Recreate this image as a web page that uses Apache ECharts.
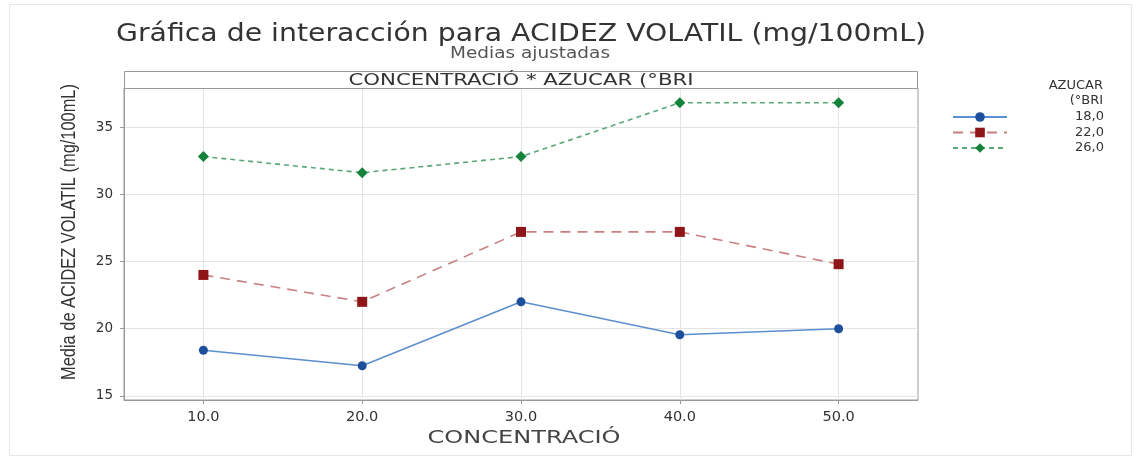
<!DOCTYPE html>
<html>
<head>
<meta charset="utf-8">
<script src="https://cdn.jsdelivr.net/npm/echarts@6/dist/echarts.min.js"></script>
<style>html,body{margin:0;padding:0;background:#fff}#chart{width:1139px;height:459px}</style>
</head>
<body>
<div id="chart"></div>
<script>
var concentracion = [10, 20, 30, 40, 50];
var seriesNames = ['18,0', '22,0', '26,0'];
var azucar18 = [18.4, 17.25, 22.0, 19.55, 20.0];
var azucar22 = [24.0, 22.0, 27.2, 27.2, 24.8];
var azucar26 = [32.8, 31.6, 32.8, 36.8, 36.8];
var yTicks = [15, 20, 25, 30, 35];

var FONT = "'DejaVu Sans', 'Noto Sans', sans-serif";
var chart = echarts.init(document.getElementById('chart'), null, {renderer: 'canvas'});

function pairs(ys) { return concentracion.map(function (x, i) { return [x, ys[i]]; }); }

function mkSeries(name, data, symbol, mColor, lColor, dash, size) {
  return {
    name: name, type: 'line', data: pairs(data), symbol: symbol, symbolSize: size,
    itemStyle: {color: mColor},
    lineStyle: {color: lColor, width: 1.6, type: dash},
    emphasis: {disabled: true}, animation: false
  };
}

function label(text, x, y, size, color, sx, extra) {
  var el = {type: 'text', x: x, y: y, scaleX: sx || 1, silent: true,
    style: {text: text, x: 0, y: 0, textAlign: 'center', textVerticalAlign: 'middle', fontSize: size, fill: color, fontFamily: FONT}};
  if (extra) { for (var k in extra) el[k] = extra[k]; }
  return el;
}

chart.setOption({
  animation: false,
  textStyle: {fontFamily: FONT},
  grid: {left: 124, right: 221, top: 88, bottom: 59, show: true, borderColor: '#9a9a9a', borderWidth: 1, backgroundColor: '#fff'},
  xAxis: {
    type: 'value', min: 5, max: 55,
    axisLine: {show: true, onZero: false, lineStyle: {color: '#9a9a9a'}},
    axisTick: {show: true, length: 4, lineStyle: {color: '#9a9a9a'}, customValues: concentracion},
    axisLabel: {fontSize: 14.5, color: '#333', margin: 10, fontFamily: FONT, customValues: concentracion,
      formatter: function (v) { return v.toFixed(1); }},
    splitLine: {show: true, lineStyle: {color: '#e4e4e4', width: 1}}
  },
  yAxis: {
    type: 'value', min: 14.7, max: 37.9,
    axisLine: {show: true, onZero: false, lineStyle: {color: '#9a9a9a'}},
    axisTick: {show: true, length: 4, lineStyle: {color: '#9a9a9a'}, customValues: yTicks},
    axisLabel: {fontSize: 13.5, color: '#333', margin: 11, fontFamily: FONT, customValues: yTicks},
    splitLine: {show: true, lineStyle: {color: '#e4e4e4', width: 1}}
  },
  legend: {
    orient: 'vertical', left: 952, top: 110.5, padding: 0, itemWidth: 54, itemHeight: 12, itemGap: 2.5,
    data: seriesNames, selectedMode: false,
    textStyle: {fontSize: 13, lineHeight: 13, color: '#333', fontFamily: FONT, padding: [0, 0, 0, 63]}
  },
  graphic: [
    {type: 'rect', shape: {x: 9.5, y: 4.5, width: 1122, height: 451}, style: {fill: 'none', stroke: '#e6e6e6', lineWidth: 1}, silent: true},
    label('Gráfica de interacción para ACIDEZ VOLATIL (mg/100mL)', 521, 35, 24, '#333', 1.18),
    label('Medias ajustadas', 530, 54, 16.5, '#555', 1.12),
    {type: 'rect', shape: {x: 124.5, y: 71.5, width: 793, height: 17}, style: {fill: '#ffffff', stroke: '#9a9a9a', lineWidth: 1}, silent: true, z: 10},
    label('CONCENTRACIÓ * AZUCAR (°BRI', 521, 80.5, 16, '#333', 1.33, {z: 11}),
    label('CONCENTRACIÓ', 524, 438, 18.5, '#444', 1.3),
    {type: 'text', x: 69, y: 232, rotation: Math.PI / 2, scaleX: 0.82, silent: true,
     style: {text: 'Media de ACIDEZ VOLATIL (mg/100mL)', x: 0, y: 0, textAlign: 'center', textVerticalAlign: 'middle', fontSize: 20, fill: '#333', fontFamily: "'Liberation Sans', Arial, sans-serif"}},
    {type: 'text', silent: true, style: {text: 'AZUCAR', x: 1103, y: 86, textAlign: 'right', textVerticalAlign: 'middle', fontSize: 13, fill: '#333', fontFamily: FONT}},
    {type: 'text', silent: true, style: {text: '(°BRI', x: 1103, y: 101, textAlign: 'right', textVerticalAlign: 'middle', fontSize: 13, fill: '#333', fontFamily: FONT}}
  ],
  series: [
    mkSeries(seriesNames[0], azucar18, 'circle', '#1d4f9c', '#5c8fcf', 'solid', 9),
    mkSeries(seriesNames[1], azucar22, 'rect', '#8e1518', '#c98080', [10, 7], 10),
    mkSeries(seriesNames[2], azucar26, 'diamond', '#13823a', '#5aa77a', [5, 4], 11)
  ]
});
</script>
</body>
</html>
